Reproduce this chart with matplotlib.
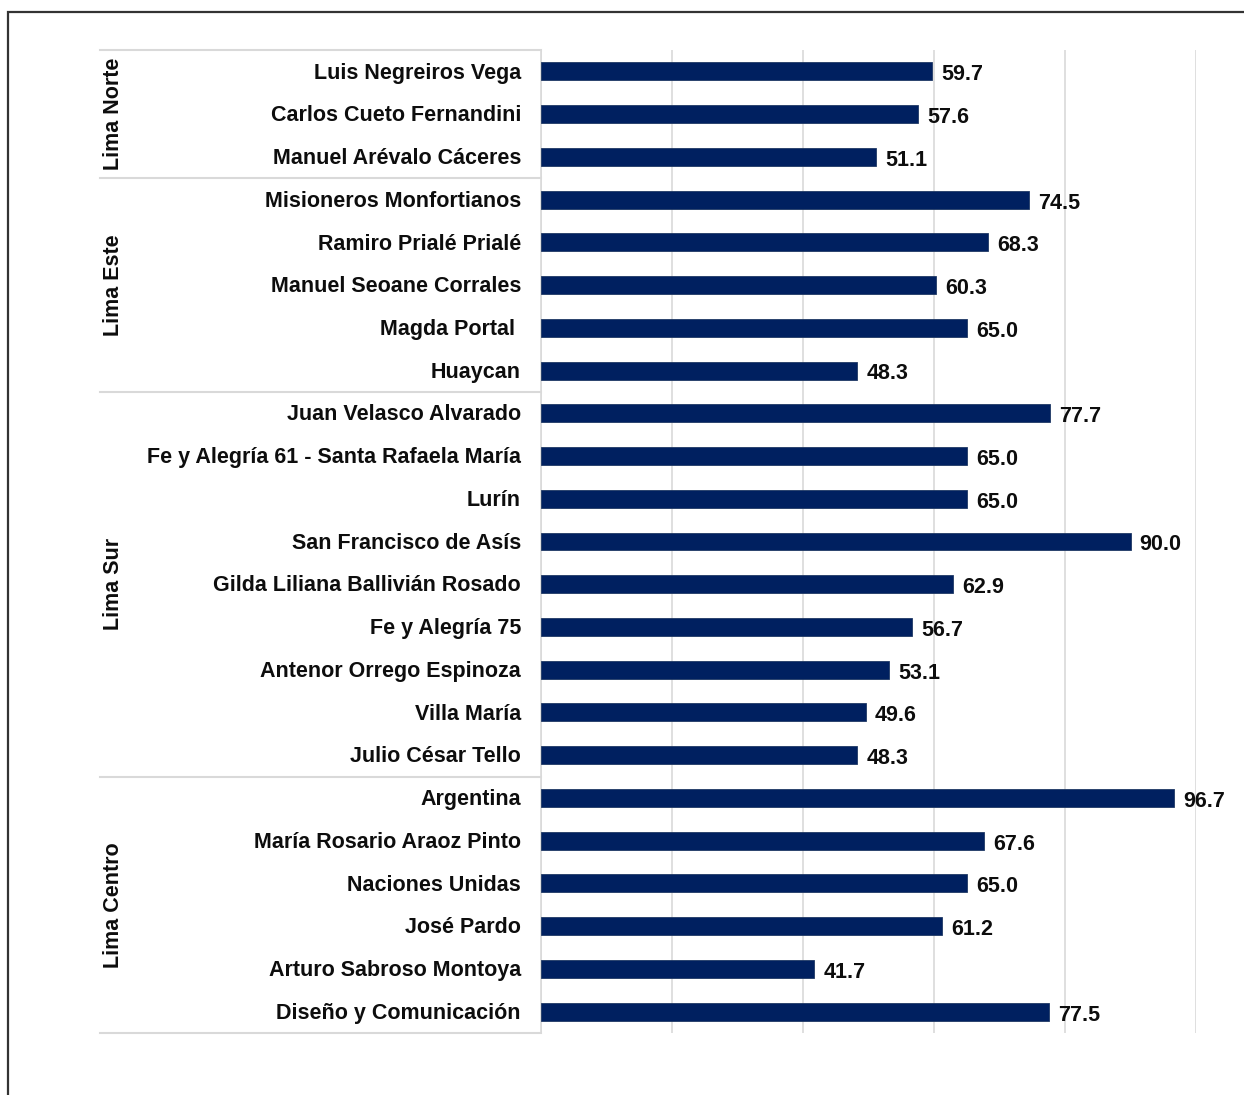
import matplotlib
matplotlib.use("Agg")
import matplotlib.pyplot as plt
from matplotlib.transforms import blended_transform_factory
from matplotlib.patches import Rectangle

plt.rcParams['font.family'] = ['Liberation Sans', 'DejaVu Sans']

groups = ["Lima Norte", "Lima Este", "Lima Sur", "Lima Centro"]
group_sizes = [3, 5, 9, 6]
schools = [
    "Luis Negreiros Vega", "Carlos Cueto Fernandini", "Manuel Arévalo Cáceres",
    "Misioneros Monfortianos", "Ramiro Prialé Prialé", "Manuel Seoane Corrales",
    "Magda Portal ", "Huaycan",
    "Juan Velasco Alvarado", "Fe y Alegría 61 - Santa Rafaela María", "Lurín",
    "San Francisco de Asís", "Gilda Liliana Ballivián Rosado", "Fe y Alegría 75",
    "Antenor Orrego Espinoza", "Villa María", "Julio César Tello",
    "Argentina", "María Rosario Araoz Pinto", "Naciones Unidas", "José Pardo",
    "Arturo Sabroso Montoya", "Diseño y Comunicación",
]
values = [59.7, 57.6, 51.1,
          74.5, 68.3, 60.3, 65.0, 48.3,
          77.7, 65.0, 65.0, 90.0, 62.9, 56.7, 53.1, 49.6, 48.3,
          96.7, 67.6, 65.0, 61.2, 41.7, 77.5]
xticks = [0, 20, 40, 60, 80, 100]

W, H = 1244, 1095
fig = plt.figure(figsize=(W / 100, H / 100), dpi=100)
x0, x1 = 541, 1196
ytop, ybot = 50, 1033
ax = fig.add_axes([x0 / W, 1 - ybot / H, (x1 - x0) / W, (ybot - ytop) / H])

n = len(schools)
ypos = list(range(n))
bar_color = "#002060"
ax.barh(ypos, values, height=0.42, color=bar_color, edgecolor="#1f3864", linewidth=0.6, zorder=3)
ax.set_xlim(0, 100)
ax.set_ylim(n - 0.5, -0.5)
ax.set_xticks(xticks)
ax.xaxis.grid(True, color="#d9d9d9", linewidth=1.2, zorder=0)
ax.tick_params(axis="x", length=0, labelbottom=False)
ax.set_yticks([])
for s in ["top", "right", "bottom"]:
    ax.spines[s].set_visible(False)
ax.spines["left"].set_color("#d9d9d9")
ax.spines["left"].set_linewidth(1.2)

txt = "#0d0d0d"
for y, v in zip(ypos, values):
    ax.text(v + 1.4, y + 0.08, f"{v:.1f}", va="center", ha="left",
            fontsize=15.5, fontweight="bold", color=txt)

trans = blended_transform_factory(ax.transAxes, ax.transData)
for y, s in zip(ypos, schools):
    ax.text(-20 / 655, y + 0.04, s, transform=trans, ha="right", va="center",
            fontsize=15.5, fontweight="bold", color=txt, clip_on=False)

xl = (100 - x0) / 655
start = 0
bounds = [-0.5]
for g, size in zip(groups, group_sizes):
    mid = start + (size - 1) / 2
    ax.text((113 - x0) / 655, mid, g, transform=trans, rotation=90,
            ha="center", va="center", fontsize=15.5, fontweight="bold",
            color=txt, clip_on=False)
    start += size
    bounds.append(start - 0.5)
for b in bounds:
    ax.plot([xl, 0], [b, b], transform=trans, color="#d9d9d9",
            linewidth=1.5, clip_on=False)

fig.patches.append(Rectangle((8 / W, -0.01), 1.0, 1 - 12 / H + 0.01,
                             transform=fig.transFigure, fill=False,
                             edgecolor="#333333", linewidth=1.6))

fig.savefig("out.png", dpi=100)
